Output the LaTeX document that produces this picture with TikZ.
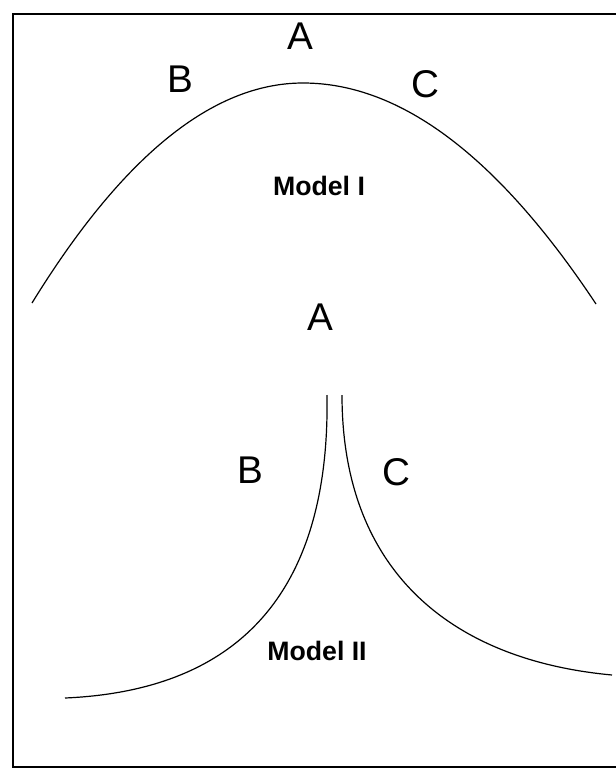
\documentclass[tikz,border=0pt]{standalone}
\usepackage{fontspec}
\setmainfont{Liberation Sans}
\begin{document}
\begin{tikzpicture}[x=0.75pt,y=-0.75pt,
  curve/.style={line width=0.9pt},
  frame/.style={line width=1.5pt},
  letter/.style={font=\fontsize{29}{30}\selectfont, inner sep=0pt},
  modellabel/.style={font=\bfseries\fontsize{20}{22}\selectfont, inner sep=0pt}]
\useasboundingbox (0,0) rectangle (616,768);
% frame (right side cut off)
\draw[frame] (630,14) -- (13,14) -- (13,767) -- (630,767);
% Model I
\draw[curve] (32,303) .. controls (122.3,156.3) and (212.7,83) .. (303,83)
  .. controls (400.8,83) and (498.2,156.7) .. (596,304);
\node[letter] (a1) at (300,36) {A};
\node[letter] (b1) at (180,79) {B};
\node[letter] (c1) at (425,84) {C};
\node[modellabel] (m1) at (319,186) {Model I};
% Model II
\draw[curve] (65,698) .. controls (250,690) and (330,580) .. (327,395);
\draw[curve] (342,395) .. controls (342,570) and (450,660) .. (612,675);
\node[letter] (a2) at (320,317) {A};
\node[letter] (b2) at (250,470) {B};
\node[letter] (c2) at (396,472) {C};
\node[modellabel] (m2) at (317,651) {Model II};
\end{tikzpicture}
\end{document}
